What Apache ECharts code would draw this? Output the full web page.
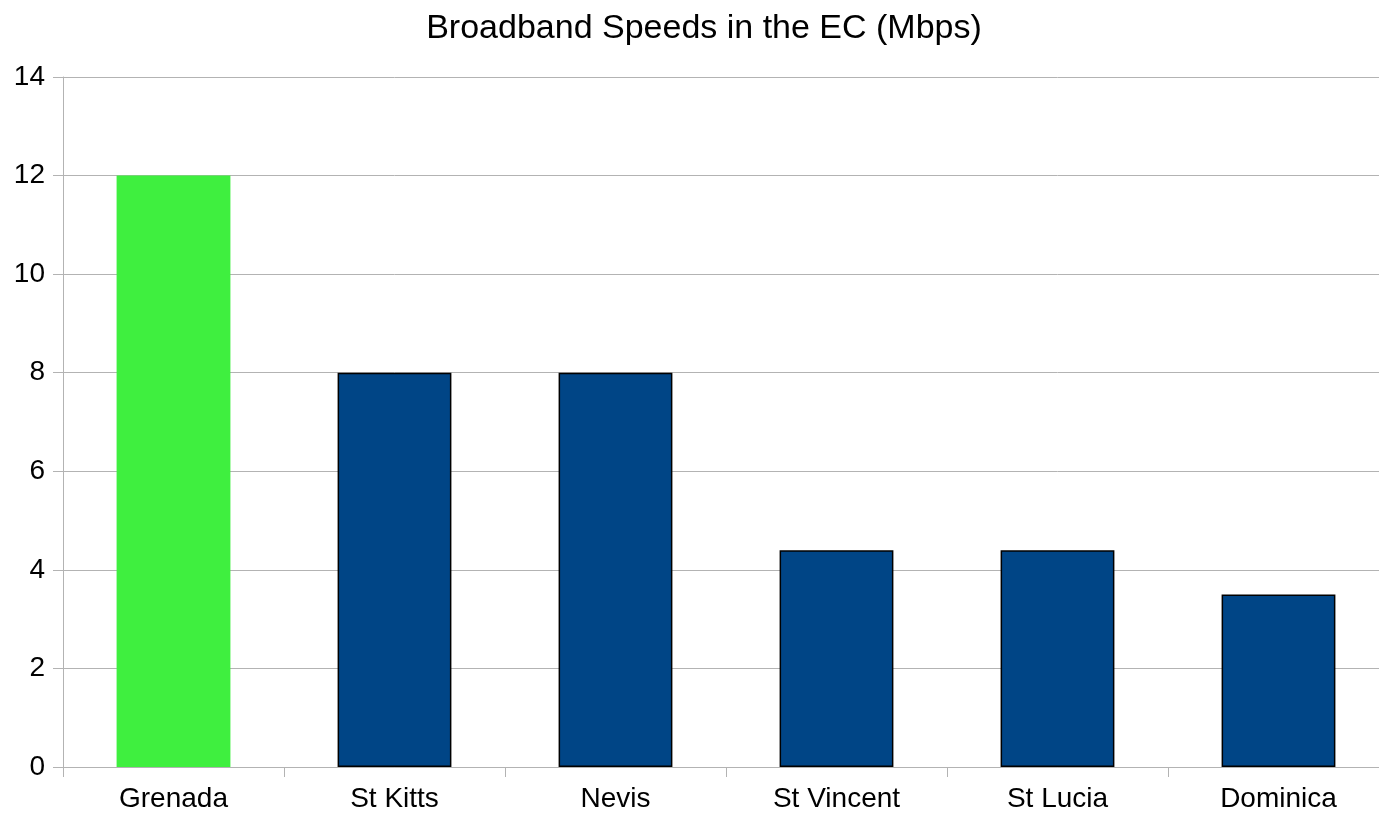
<!DOCTYPE html>
<html><head><meta charset="utf-8">
<script src="https://cdn.jsdelivr.net/npm/echarts@6/dist/echarts.min.js"></script>
<style>html,body{margin:0;padding:0;background:#fff;overflow:hidden;width:1379px;height:816px}#c{width:1389px;height:816px}</style>
</head><body><div id="c"></div>
<script>
const categories = ['Grenada','St Kitts','Nevis','St Vincent','St Lucia','Dominica'];
const speeds = [12, 8, 8, 4.4, 4.4, 3.5];
const yTicks = {min: 0, max: 14, interval: 2};
const barColors = ['#3fef3f','#004586','#004586','#004586','#004586','#004586'];
const chart = echarts.init(document.getElementById('c'));
chart.setOption({
  animation: false,
  title: {text: 'Broadband Speeds in the EC (Mbps)', left: 699, textAlign: 'center', top: 7,
    textStyle: {fontFamily: 'Liberation Sans', fontSize: 34, fontWeight: 'normal', color: '#000'}},
  grid: {left: 63, right: 0, top: 77, bottom: 49},
  xAxis: {type: 'category', data: categories,
    axisLine: {lineStyle: {color: '#b3b3b3', width: 1}},
    axisTick: {show: true, length: 10, lineStyle: {color: '#b3b3b3'}},
    axisLabel: {fontFamily: 'Liberation Sans', fontSize: 28, color: '#000', margin: 18}},
  yAxis: {type: 'value', min: yTicks.min, max: yTicks.max, interval: yTicks.interval,
    axisLine: {show: true, lineStyle: {color: '#b3b3b3', width: 1}},
    axisTick: {show: true, length: 10, lineStyle: {color: '#b3b3b3'}},
    splitLine: {lineStyle: {color: '#b3b3b3', width: 1}},
    axisLabel: {fontFamily: 'Liberation Sans', fontSize: 28, color: '#000', margin: 18}},
  series: [{type: 'bar', barWidth: '51.5%',
    data: speeds.map((v, i) => ({value: v, itemStyle: {color: barColors[i],
      borderColor: i === 0 ? barColors[i] : '#000', borderWidth: i === 0 ? 0 : 1.5}}))}]
});
</script></body></html>
